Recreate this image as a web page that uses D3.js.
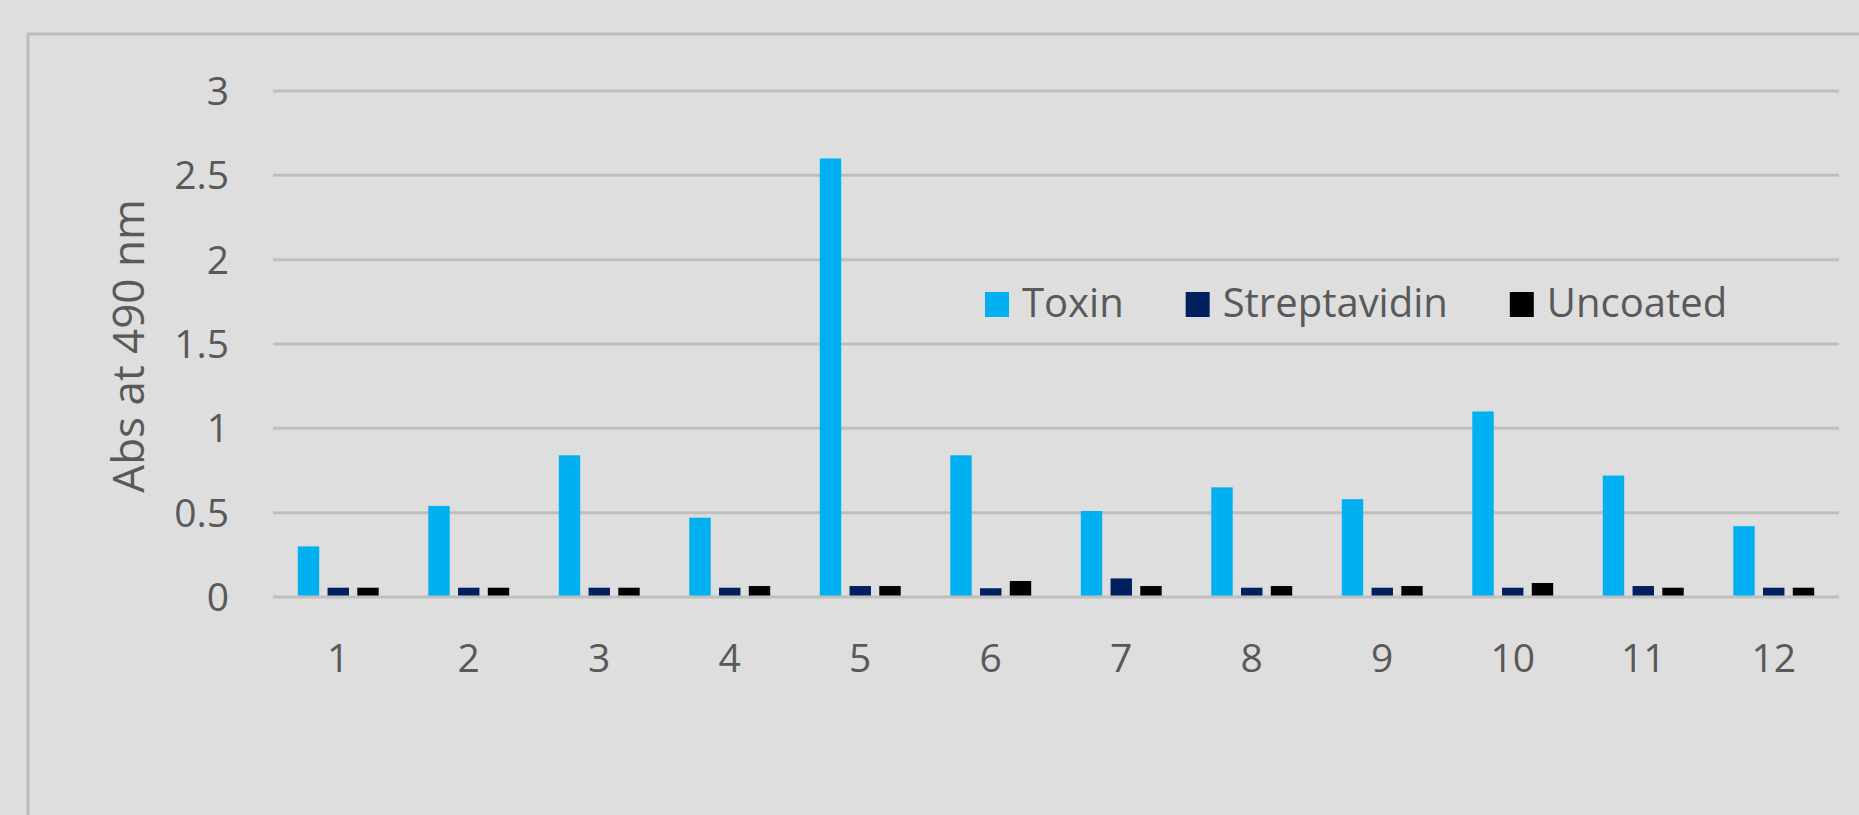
<!DOCTYPE html>
<html>
<head>
<meta charset="utf-8">
<script src="https://cdn.jsdelivr.net/npm/d3@7"></script>
<style>
  html, body { margin: 0; padding: 0; background: #dedede; }
  svg { display: block; }
  text { font-family: "Open Sans", sans-serif; fill: #595959; }
</style>
</head>
<body>
<svg width="1859" height="815"></svg>
<script>
// values
const wells = ['1', '2', '3', '4', '5', '6', '7', '8', '9', '10', '11', '12'];
const seriesNames = ['Toxin', 'Streptavidin', 'Uncoated'];
const toxin = [0.30, 0.54, 0.84, 0.47, 2.60, 0.84, 0.51, 0.65, 0.58, 1.10, 0.72, 0.42];
const streptavidin = [0.055, 0.055, 0.055, 0.055, 0.065, 0.052, 0.11, 0.055, 0.055, 0.055, 0.065, 0.055];
const uncoated = [0.055, 0.055, 0.055, 0.065, 0.065, 0.095, 0.065, 0.065, 0.065, 0.083, 0.055, 0.055];
const yTicks = [0, 0.5, 1, 1.5, 2, 2.5, 3];
const colors = ['#00b0f0', '#002060', '#000000'];

const allSeries = [toxin, streptavidin, uncoated];

const svg = d3.select('svg');

// chart frame (top + left edge only)
svg.append('path')
   .attr('d', 'M28,815 L28,34 L1859,34')
   .attr('fill', 'none')
   .attr('stroke', '#bcbcbc')
   .attr('stroke-width', 3);

const x0 = d3.scaleBand()
             .domain(wells)
             .range([273, 1839])
             .paddingInner(0.38)
             .paddingOuter(0.19);

const x1 = d3.scaleBand()
             .domain(seriesNames)
             .range([0, x0.bandwidth()])
             .paddingInner(0.28);

const y = d3.scaleLinear()
            .domain([0, 3])
            .range([597, 91]);

// gridlines
svg.append('g')
   .selectAll('line')
   .data(yTicks.filter(t => t > 0))
   .enter()
   .append('line')
   .attr('x1', 273)
   .attr('x2', 1839)
   .attr('y1', d => y(d))
   .attr('y2', d => y(d))
   .attr('stroke', '#bfbfbf')
   .attr('stroke-width', 3);

// y tick labels
svg.append('g')
   .selectAll('text')
   .data(yTicks)
   .enter()
   .append('text')
   .attr('x', 229)
   .attr('y', d => y(d))
   .attr('dy', '0.36em')
   .attr('text-anchor', 'end')
   .style('font-size', '39px')
   .text(d => d);

// bars
const groups = svg.append('g')
   .selectAll('g')
   .data(wells)
   .enter()
   .append('g')
   .attr('transform', d => `translate(${x0(d)},0)`);

groups.selectAll('rect')
      .data((d, i) => seriesNames.map((s, k) => ({ name: s, value: allSeries[k][i], k: k })))
      .enter()
      .append('rect')
      .attr('x', d => x1(d.name))
      .attr('width', x1.bandwidth())
      .attr('y', d => y(d.value))
      .attr('height', d => y(0) - y(d.value))
      .attr('fill', d => colors[d.k]);

// zero line on top
svg.append('line')
   .attr('x1', 273)
   .attr('x2', 1839)
   .attr('y1', y(0))
   .attr('y2', y(0))
   .attr('stroke', '#bfbfbf')
   .attr('stroke-width', 3);

// x labels
svg.append('g')
   .selectAll('text')
   .data(wells)
   .enter()
   .append('text')
   .attr('x', d => x0(d) + x0.bandwidth() / 2)
   .attr('y', 672)
   .attr('text-anchor', 'middle')
   .style('font-size', '39px')
   .text(d => d);

// y axis title
svg.append('text')
   .attr('transform', 'translate(144,346) rotate(-90)')
   .attr('text-anchor', 'middle')
   .style('font-size', '44px')
   .text('Abs at 490 nm');

// legend
const legend = svg.append('g');
let lx = 985;
seriesNames.forEach((name, k) => {
  legend.append('rect')
        .attr('x', lx)
        .attr('y', 292)
        .attr('width', 24)
        .attr('height', 25)
        .attr('fill', colors[k]);
  const t = legend.append('text')
        .attr('x', lx + 37)
        .attr('y', 317)
        .style('font-size', '40px')
        .text(name);
  lx += 37 + t.node().getComputedTextLength() + 62;
});
</script>
</body>
</html>
